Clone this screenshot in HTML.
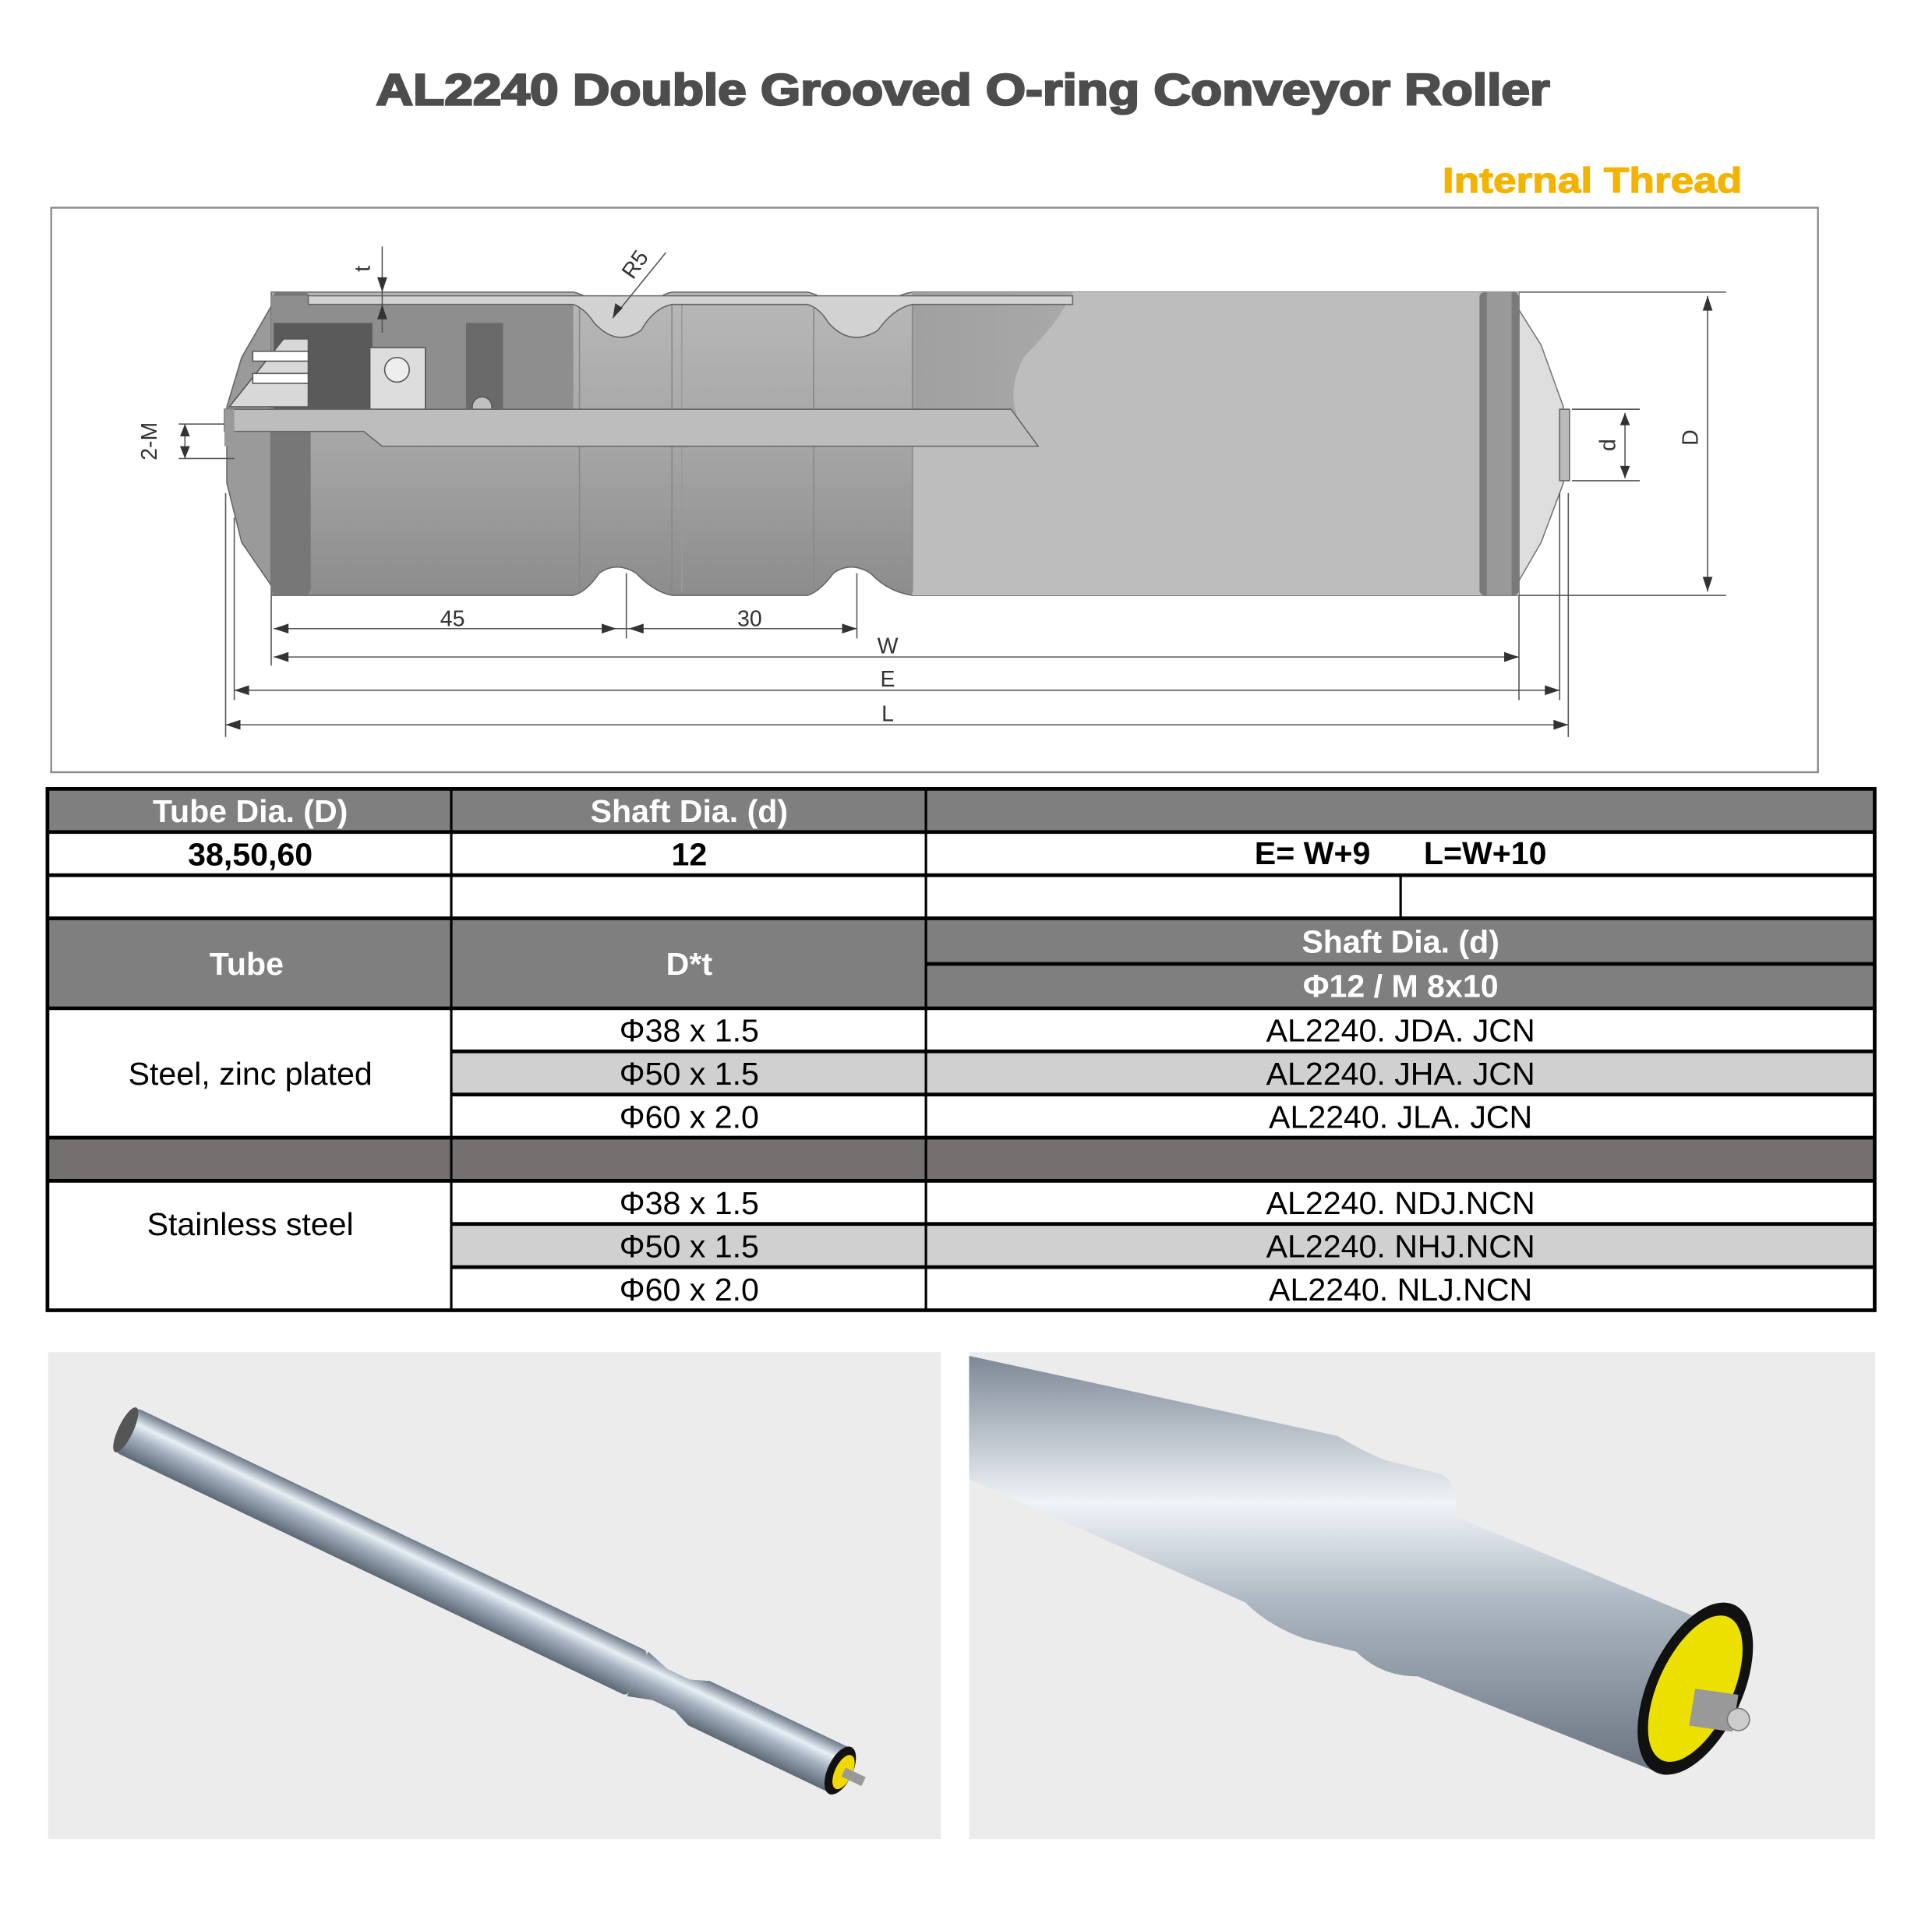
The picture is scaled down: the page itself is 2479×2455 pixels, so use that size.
<!DOCTYPE html>
<html><head><meta charset="utf-8">
<style>
html,body{margin:0;padding:0;background:#fff;}
svg{display:block;}
text{font-family:"Liberation Sans",sans-serif;}
</style></head>
<body>
<svg width="2479" height="2455" viewBox="0 0 1567 1552" preserveAspectRatio="none" xmlns="http://www.w3.org/2000/svg">
<defs>
<linearGradient id="cyl" x1="0" y1="0" x2="0" y2="1">
<stop offset="0" stop-color="#b8b8b8"/><stop offset="0.5" stop-color="#a6a6a6"/><stop offset="1" stop-color="#8c8c8c"/></linearGradient>
<linearGradient id="cylR" x1="0" y1="0" x2="1" y2="0">
<stop offset="0" stop-color="#a0a0a0"/><stop offset="0.6" stop-color="#b4b4b4"/><stop offset="1" stop-color="#a8a8a8"/></linearGradient>
<linearGradient id="pipe" x1="0" y1="0" x2="0" y2="1">
<stop offset="0" stop-color="#6d7a8a"/><stop offset="0.3" stop-color="#e8eef5"/><stop offset="0.55" stop-color="#a8b4c2"/><stop offset="1" stop-color="#5d6875"/></linearGradient>
<linearGradient id="pipe2" x1="0" y1="0" x2="0" y2="1">
<stop offset="0" stop-color="#7d8896"/><stop offset="0.35" stop-color="#f0f4f8"/><stop offset="0.6" stop-color="#aab5c0"/><stop offset="1" stop-color="#6a7480"/></linearGradient>
</defs>

<text x="305" y="85" textLength="952" lengthAdjust="spacingAndGlyphs" font-size="36" font-weight="bold" fill="#4d4d4d" stroke="#4d4d4d" stroke-width="1.6">AL2240 Double Grooved O-ring Conveyor Roller</text>
<text x="1170" y="156" textLength="243" lengthAdjust="spacingAndGlyphs" font-size="29" font-weight="bold" fill="#f2b400" stroke="#f2b400" stroke-width="0.8">Internal Thread</text>

<rect x="41.5" y="168.5" width="1433" height="458" fill="#fff" stroke="#8a8a8a" stroke-width="1.5"/>

<g>
<path d="M1228 245 L1250 280 L1268 330 L1268 392 L1250 440 L1228 478 Z" fill="#dedede" stroke="#777" stroke-width="1"/>
<rect x="1265" y="332" width="8" height="58" fill="#bbb" stroke="#666" stroke-width="1"/>
<path d="M222 245 L196 290 L184 330 L184 392 L196 440 L222 478 Z" fill="#9a9a9a" stroke="#666"/>
<path d="M220 237 L465 237 Q478 240 486 250 Q500 268 515 262 Q530 240 545 237 L655 237 Q668 240 676 250 Q690 268 705 262 Q720 240 740 237 L1232 237 L1232 483 L740 483 Q720 480 706 465 Q690 455 676 465 Q665 480 655 483 L545 483 Q530 480 516 465 Q500 455 486 465 Q476 480 465 483 L220 483 Z" fill="url(#cyl)" stroke="#666" stroke-width="1"/>
<rect x="740" y="237" width="492" height="246" fill="url(#cylR)"/>
<path d="M870 237 L1232 237 L1232 483 L740 483 L740 360 L840 360 Q810 330 830 290 Q860 260 870 237 Z" fill="#bdbdbd"/>
<rect x="220" y="237" width="32" height="246" rx="6" fill="#777"/>
<rect x="1200" y="237" width="32" height="246" rx="4" fill="#7a7a7a"/>
<rect x="1206" y="237" width="20" height="246" fill="#999"/>
<line x1="470" y1="250" x2="470" y2="478" stroke="#888"/><line x1="545" y1="240" x2="545" y2="480" stroke="#888"/>
<line x1="553" y1="240" x2="553" y2="480" stroke="#999"/>
<line x1="660" y1="250" x2="660" y2="478" stroke="#888"/><line x1="740" y1="240" x2="740" y2="480" stroke="#888"/>
<path d="M220 240 L465 240 L465 335 L220 335 Z" fill="#8e8e8e"/>
<path d="M250 240 L870 240 L870 247 L740 247 Q725 250 712 268 Q690 282 672 262 Q665 250 655 247 L545 247 Q530 250 520 268 Q500 282 482 262 Q474 250 465 247 L250 247 Z" fill="#d2d2d2" stroke="#666"/>
<rect x="222" y="262" width="80" height="70" fill="#5a5a5a"/>
<path d="M186 330 L230 275 L250 275 L250 330 Z" fill="#d8d8d8" stroke="#555"/>
<rect x="205" y="285" width="45" height="8" fill="#fff" stroke="#555"/>
<rect x="205" y="303" width="45" height="8" fill="#fff" stroke="#555"/>
<rect x="300" y="282" width="45" height="50" fill="#ddd" stroke="#555"/>
<circle cx="322" cy="300" r="10" fill="#eee" stroke="#555"/>
<rect x="378" y="262" width="30" height="70" fill="#6a6a6a"/>
<circle cx="391" cy="330" r="8" fill="#c0c0c0" stroke="#555"/>
<path d="M182 332 L820 332 L842 362 L310 362 L295 350 L182 350 Z" fill="#bdbdbd" stroke="#666"/>
<path d="M182 332 L182 362 L190 362 L190 332 Z" fill="#999"/>
</g>

<g stroke="#555" stroke-width="1" fill="none">
<line x1="310" y1="200" x2="310" y2="270"/>
<line x1="497" y1="258" x2="540" y2="205"/>
<line x1="150" y1="344" x2="150" y2="372"/>
<line x1="145" y1="344" x2="182" y2="344"/><line x1="145" y1="372" x2="190" y2="372"/>
<line x1="1232" y1="237" x2="1400" y2="237"/><line x1="1232" y1="483" x2="1400" y2="483"/>
<line x1="1385" y1="240" x2="1385" y2="480"/>
<line x1="1275" y1="332" x2="1330" y2="332"/><line x1="1275" y1="390" x2="1330" y2="390"/>
<line x1="1318" y1="335" x2="1318" y2="388"/>
<line x1="220" y1="483" x2="220" y2="540"/><line x1="1232" y1="483" x2="1232" y2="568"/>
<line x1="183" y1="400" x2="183" y2="598"/><line x1="190" y1="420" x2="190" y2="568"/>
<line x1="1265" y1="400" x2="1265" y2="568"/><line x1="1272" y1="400" x2="1272" y2="598"/>
<line x1="508" y1="465" x2="508" y2="518"/><line x1="695" y1="465" x2="695" y2="518"/>
<line x1="222" y1="510" x2="695" y2="510"/>
<line x1="222" y1="533" x2="1232" y2="533"/>
<line x1="190" y1="560" x2="1265" y2="560"/>
<line x1="183" y1="588" x2="1272" y2="588"/>
</g>
<g fill="#333">
<path d="M222 510 l12 -4 v8z M500 510 l-12 -4 v8z M510 510 l12 -4 v8z M695 510 l-12 -4 v8z"/>
<path d="M222 533 l12 -4 v8z M1232 533 l-12 -4 v8z M190 560 l12 -4 v8z M1265 560 l-12 -4 v8z M183 588 l12 -4 v8z M1272 588 l-12 -4 v8z"/>
<path d="M1385 240 l-4 12 h8z M1385 480 l-4 -12 h8z M1318 335 l-4 10 h8z M1318 388 l-4 -10 h8z M150 344 l-4 10 h8z M150 372 l-4 -10 h8z M310 237 l-4 -12 h8z M310 247 l-4 12 h8z M497 258 l2 -12 l6 4z"/>
</g>
<g font-size="18" fill="#333" text-anchor="middle">
<text x="367" y="508">45</text><text x="608" y="508">30</text>
<text x="720" y="530">W</text><text x="720" y="557">E</text><text x="720" y="585">L</text>
<text transform="translate(127,358) rotate(-90)">2-M</text>
<text transform="translate(1310,361) rotate(-90)">d</text>
<text transform="translate(1377,355) rotate(-90)">D</text>
<text transform="translate(300,218) rotate(-90)">t</text>
<text transform="translate(520,218) rotate(-55)">R5</text>
</g>

<g>
<rect x="38" y="640" width="1483" height="35" fill="#7f7f7f"/>
<rect x="38" y="745" width="1483" height="73" fill="#7f7f7f"/>
<rect x="366" y="853" width="1155" height="35" fill="#d0d0d0"/>
<rect x="38" y="923" width="1483" height="35" fill="#757070"/>
<rect x="366" y="993" width="1155" height="35" fill="#d0d0d0"/>
<g stroke="#000" stroke-width="3" fill="none">
<rect x="38.5" y="640" width="1482" height="423"/>
<line x1="38" y1="675" x2="1521" y2="675"/>
<line x1="38" y1="710" x2="1521" y2="710"/>
<line x1="38" y1="745" x2="1521" y2="745"/>
<line x1="751" y1="782" x2="1521" y2="782"/>
<line x1="38" y1="818" x2="1521" y2="818"/>
<line x1="366" y1="853" x2="1521" y2="853"/>
<line x1="366" y1="888" x2="1521" y2="888"/>
<line x1="38" y1="923" x2="1521" y2="923"/>
<line x1="38" y1="958" x2="1521" y2="958"/>
<line x1="366" y1="993" x2="1521" y2="993"/>
<line x1="366" y1="1028" x2="1521" y2="1028"/>
<line x1="366" y1="640" x2="366" y2="1063" stroke-width="2"/>
<line x1="751" y1="640" x2="751" y2="1063" stroke-width="2"/>
<line x1="1136" y1="710" x2="1136" y2="745" stroke-width="2"/>
</g>
<g font-size="26" text-anchor="middle">
<text x="203" y="667" fill="#fff" font-weight="bold">Tube Dia. (D)</text>
<text x="559" y="667" fill="#fff" font-weight="bold">Shaft Dia. (d)</text>
<text x="203" y="702" fill="#000" font-weight="bold">38,50,60</text>
<text x="559" y="702" fill="#000" font-weight="bold">12</text>
<text x="1136" y="701" fill="#000" font-weight="bold" xml:space="preserve">E= W+9      L=W+10</text>
<text x="200" y="791" fill="#fff" font-weight="bold">Tube</text>
<text x="559" y="791" fill="#fff" font-weight="bold">D*t</text>
<text x="1136" y="773" fill="#fff" font-weight="bold">Shaft Dia. (d)</text>
<text x="1136" y="809" fill="#fff" font-weight="bold">Φ12 / M 8x10</text>
<text x="203" y="880" fill="#000">Steel, zinc plated</text>
<text x="559" y="845" fill="#000">Φ38 x 1.5</text>
<text x="559" y="880" fill="#000">Φ50 x 1.5</text>
<text x="559" y="915" fill="#000">Φ60 x 2.0</text>
<text x="1136" y="845" fill="#000">AL2240. JDA. JCN</text>
<text x="1136" y="880" fill="#000">AL2240. JHA. JCN</text>
<text x="1136" y="915" fill="#000">AL2240. JLA. JCN</text>
<text x="203" y="1002" fill="#000">Stainless steel</text>
<text x="559" y="985" fill="#000">Φ38 x 1.5</text>
<text x="559" y="1020" fill="#000">Φ50 x 1.5</text>
<text x="559" y="1055" fill="#000">Φ60 x 2.0</text>
<text x="1136" y="985" fill="#000">AL2240. NDJ.NCN</text>
<text x="1136" y="1020" fill="#000">AL2240. NHJ.NCN</text>
<text x="1136" y="1055" fill="#000">AL2240. NLJ.NCN</text>
</g>
</g>

<rect x="39" y="1097" width="724" height="395" fill="#ececec"/>
<rect x="786" y="1097" width="735" height="395" fill="#ececec"/>
<g transform="translate(102,1160) rotate(25.5)">
<rect x="0" y="-20" width="460" height="40" fill="url(#pipe)" rx="4"/>
<path d="M460 -20 L480 -14 L500 -14 L515 -20 L560 -20 L560 20 L515 20 L500 14 L480 14 L460 20 Z" fill="url(#pipe)"/>
<rect x="560" y="-20" width="80" height="40" fill="url(#pipe)"/>
<ellipse cx="642" cy="0" rx="10" ry="21" fill="#111"/>
<ellipse cx="645" cy="0" rx="7" ry="15" fill="#f0d800"/>
<rect x="645" y="-4" width="18" height="8" fill="#999"/>
<ellipse cx="0" cy="0" rx="6" ry="20" fill="#555"/>
</g>
<g>
<path d="M786 1100 L1085 1165 Q1110 1180 1125 1185 L1165 1195 Q1185 1200 1180 1230 L1395 1320 L1350 1440 L1150 1360 Q1120 1360 1100 1340 L1060 1330 Q1030 1320 1010 1300 L786 1200 Z" fill="url(#pipe2)"/>
<ellipse cx="1375" cy="1370" rx="38" ry="75" transform="rotate(25 1375 1370)" fill="#111"/>
<ellipse cx="1375" cy="1370" rx="30" ry="64" transform="rotate(25 1375 1370)" fill="#ece000"/>
<path d="M1375 1370 L1410 1375 L1405 1405 L1370 1400 Z" fill="#999"/>
<circle cx="1410" cy="1395" r="9" fill="#ccc" stroke="#777"/>
</g>
</svg>
</body></html>
